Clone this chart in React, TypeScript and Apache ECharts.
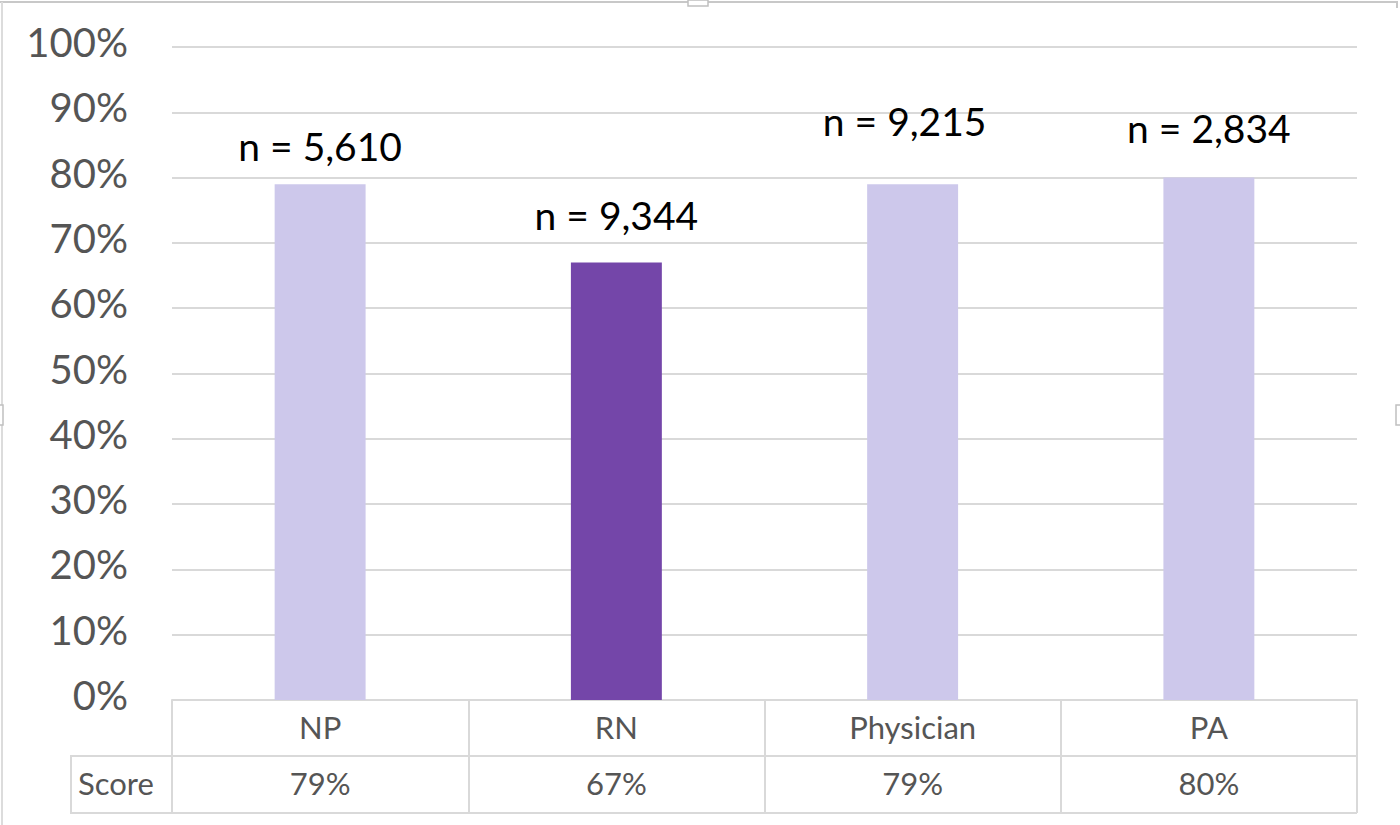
import React, { useEffect, useRef } from "react";
import * as echarts from "echarts";

const categories = ["NP", "RN", "Physician", "PA"];
const scores = [79, 67, 79, 80];
const counts = ["5,610", "9,344", "9,215", "2,834"];
const highlighted = "RN";
const yTicks = [0, 10, 20, 30, 40, 50, 60, 70, 80, 90, 100];

// label placement (style only)
const labelDistance = [19, 28, 44, 30];
const labelShiftX = [0, 0, -8, 0];

const LIGHT = "#CDC8EB";
const DARK = "#7446A9";
const GRID = "#D9D9D9";
const TEXT = "#555555";
const FONT = "Lato, 'Open Sans', sans-serif";

export default function App() {
  const ref = useRef<HTMLDivElement>(null);
  useEffect(() => {
    if (!ref.current) return;
    const chart = echarts.init(ref.current, undefined, { renderer: "svg" });
    chart.setOption({
      animation: false,
      backgroundColor: "#fff",
      grid: { left: 172, right: 43, top: 47, bottom: 125, containLabel: false },
      yAxis: {
        type: "value",
        min: yTicks[0] / 100,
        max: yTicks[yTicks.length - 1] / 100,
        interval: (yTicks[1] - yTicks[0]) / 100,
        axisLine: { show: false },
        axisTick: { show: false },
        splitLine: { lineStyle: { color: GRID, width: 2 } },
        axisLabel: {
          formatter: (v: number) => `${Math.round(v * 100)}%`,
          fontFamily: FONT,
          fontSize: 40,
          color: TEXT,
          margin: 44,
          verticalAlign: "bottom",
          lineHeight: 10,
        },
      },
      xAxis: [
        {
          type: "category",
          data: categories,
          position: "bottom",
          axisLine: { show: true, lineStyle: { color: GRID, width: 2 } },
          axisTick: {
            show: true,
            alignWithLabel: false,
            length: 113,
            lineStyle: { color: GRID, width: 2 },
          },
          axisLabel: { fontFamily: FONT, fontSize: 31, color: TEXT, margin: 11 },
        },
        {
          type: "category",
          data: scores.map((s) => `${s}%`),
          position: "bottom",
          offset: 56,
          axisLine: { show: true, lineStyle: { color: GRID, width: 2 } },
          axisTick: { show: false },
          axisLabel: { fontFamily: FONT, fontSize: 31, color: TEXT, margin: 11 },
        },
      ],
      series: [
        {
          type: "bar",
          xAxisIndex: 0,
          barWidth: "30.7%",
          data: scores.map((s, i) => ({
            value: s / 100,
            itemStyle: { color: categories[i] === highlighted ? DARK : LIGHT },
            label: {
              show: true,
              position: "top",
              distance: labelDistance[i],
              offset: [labelShiftX[i], 0],
              formatter: `n = ${counts[i]}`,
              fontFamily: FONT,
              fontSize: 39,
              color: "#000",
            },
          })),
        },
      ],
      graphic: [
        { type: "line", shape: { x1: 0, y1: 2, x2: 1398, y2: 2 }, style: { stroke: "#C8C8C8", lineWidth: 2 } },
        { type: "line", shape: { x1: 2, y1: 2, x2: 2, y2: 825 }, style: { stroke: "#DCDCDC", lineWidth: 2 } },
        { type: "line", shape: { x1: 1397, y1: 2, x2: 1397, y2: 8 }, style: { stroke: "#C8C8C8", lineWidth: 2 } },
        { type: "rect", shape: { x: 688, y: 0, width: 20, height: 6 }, style: { fill: "#fff", stroke: "#C0C0C0", lineWidth: 1.5 } },
        { type: "rect", shape: { x: -2, y: 405, width: 5, height: 20 }, style: { fill: "#fff", stroke: "#C0C0C0", lineWidth: 1.5 } },
        { type: "rect", shape: { x: 1396, y: 405, width: 8, height: 20 }, style: { fill: "#fff", stroke: "#C0C0C0", lineWidth: 1.5 } },
        { type: "rect", shape: { x: 71, y: 756, width: 101, height: 57 }, style: { fill: "none", stroke: GRID, lineWidth: 2 } },
        { type: "line", shape: { x1: 172, y1: 813, x2: 1357, y2: 813 }, style: { stroke: GRID, lineWidth: 2 } },
        {
          type: "text",
          x: 78,
          y: 783,
          style: { text: "Score", font: `31px ${FONT}`, fill: TEXT, textAlign: "left", textVerticalAlign: "middle" },
        },
      ],
    });
    return () => chart.dispose();
  }, []);
  return (
    <div
      ref={ref}
      style={{ position: "fixed", left: 0, top: 0, width: 1400, height: 825 }}
    />
  );
}
